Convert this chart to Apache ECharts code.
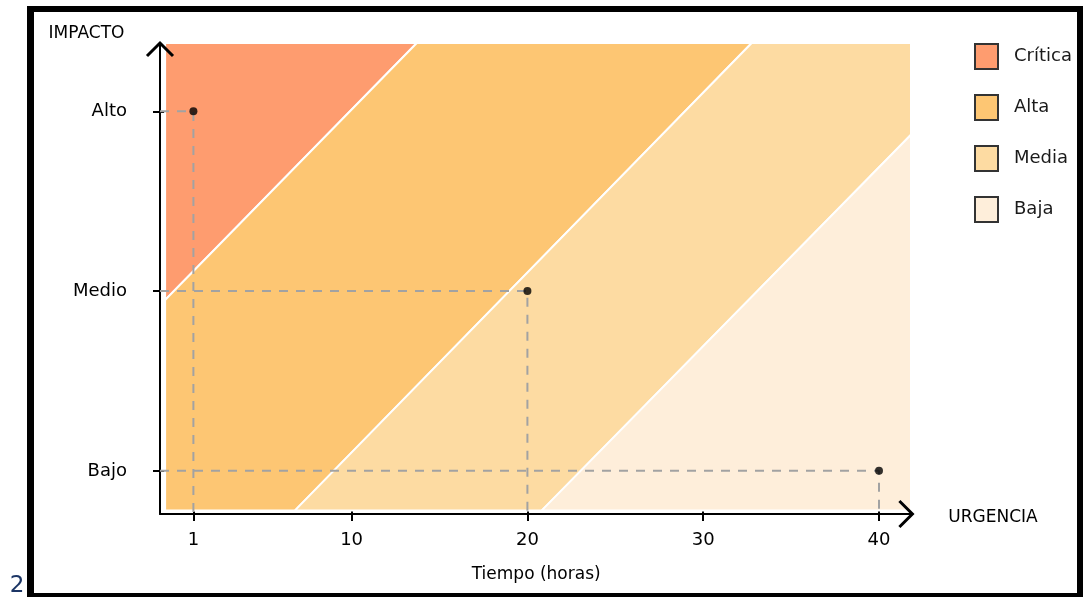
<!DOCTYPE html>
<html><head><meta charset="utf-8">
<script src="https://cdn.jsdelivr.net/npm/echarts@6/dist/echarts.min.js"></script>
<style>html,body{margin:0;padding:0;background:#fff}#c{width:1084px;height:597px}</style>
</head><body><div id="c"></div>
<script>
// ---- data ----
const bandNames  = ['Crítica', 'Alta', 'Media', 'Baja'];
const bandColors = ['#FE9C6F', '#FDC673', '#FDDBA2', '#FEEEDA'];
// polygon vertices of each priority band, [hours, impact]
const criticaPoly = [[-0.61, 3.38], [13.71, 3.38], [-0.61, 1.95]];
const altaPoly    = [[13.71, 3.38], [32.76, 3.38], [6.78, 0.78], [-0.61, 0.78], [-0.61, 1.95]];
const mediaPoly   = [[32.76, 3.38], [41.82, 3.38], [41.82, 2.87], [20.82, 0.78], [6.78, 0.78]];
const bajaPoly    = [[41.82, 2.87], [41.82, 0.78], [20.82, 0.78]];
const bandPolys = [criticaPoly, altaPoly, mediaPoly, bajaPoly];

const hourTicks    = [1, 10, 20, 30, 40];
const impactTicks  = [1, 2, 3];
const impactLabels = ['Bajo', 'Medio', 'Alto'];

const pointHours  = [1, 20, 40];
const pointImpact = [3, 2, 1];

const X_RANGE = [-0.9, 41.9];
const Y_RANGE = [0.76, 3.38];

// ---- chart ----
const FONT = 'DejaVu Sans';

function bandSeries(i) {
  const poly = bandPolys[i];
  return {
    type: 'custom', name: bandNames[i], xAxisIndex: 0, yAxisIndex: 0,
    data: [poly[0]], silent: true, z: 1,
    itemStyle: { color: bandColors[i] },
    renderItem: function (params, api) {
      return {
        type: 'polygon',
        shape: { points: poly.map(p => api.coord(p)) },
        style: { fill: bandColors[i], stroke: '#ffffff', lineWidth: 2 }
      };
    }
  };
}

const series = [0, 1, 2, 3].map(bandSeries);

pointHours.forEach((h, i) => {
  series.push({
    type: 'line', name: 'guide' + i, xAxisIndex: 0, yAxisIndex: 0,
    data: [[X_RANGE[0], pointImpact[i]], [h, pointImpact[i]], [h, Y_RANGE[0]]],
    symbol: 'none', silent: true, z: 2, animation: false,
    lineStyle: { color: '#a2a2a2', width: 2, type: [9, 8] }
  });
});

series.push({
  type: 'scatter', name: 'puntos', xAxisIndex: 0, yAxisIndex: 0,
  data: pointHours.map((h, i) => [h, pointImpact[i]]),
  symbol: 'circle', symbolSize: 8, z: 3,
  itemStyle: { color: '#000' }
});

const axisLineStyle = { color: '#000', width: 2 };
const tickStyle = { color: '#000', width: 2 };

const option = {
  animation: false,
  backgroundColor: '#fff',
  grid: { left: 160, right: 171.6, top: 43, bottom: 83, containLabel: false },
  legend: {
    data: bandNames, orient: 'vertical', left: 974, top: 43, padding: 0,
    itemWidth: 23, itemHeight: 25, itemGap: 24, icon: 'rect',
    itemStyle: { borderColor: '#333', borderWidth: 2 },
    textStyle: { fontFamily: FONT, fontSize: 18, color: '#1a1a1a', padding: [0, 0, 0, 11] },
    selectedMode: false
  },
  xAxis: [
    {
      type: 'value', min: X_RANGE[0], max: X_RANGE[1], position: 'bottom',
      axisLine: { show: true, onZero: false, lineStyle: axisLineStyle },
      axisTick: { show: true, customValues: hourTicks, length: 7, lineStyle: tickStyle },
      axisLabel: { customValues: hourTicks, margin: 17, fontFamily: FONT, fontSize: 18, color: '#000' },
      splitLine: { show: false },
      name: 'Tiempo (horas)', nameLocation: 'middle', nameGap: 52,
      nameTextStyle: { fontFamily: FONT, fontSize: 17, color: '#000' }
    },
    {
      type: 'value', min: X_RANGE[0], max: X_RANGE[1], position: 'bottom',
      axisLine: { show: false, onZero: false },
      axisTick: { show: true, inside: true, customValues: hourTicks, length: 7, lineStyle: tickStyle },
      axisLabel: { show: false }, splitLine: { show: false }
    }
  ],
  yAxis: [
    {
      type: 'value', min: Y_RANGE[0], max: Y_RANGE[1], position: 'left',
      axisLine: { show: true, onZero: false, lineStyle: axisLineStyle },
      axisTick: { show: true, customValues: impactTicks, length: 7, lineStyle: tickStyle },
      axisLabel: { customValues: impactTicks, margin: 33, fontFamily: FONT, fontSize: 18, color: '#000',
        formatter: v => impactLabels[impactTicks.indexOf(v)] },
      splitLine: { show: false },
      name: 'IMPACTO', nameLocation: 'end', nameGap: 1,
      nameTextStyle: { fontFamily: FONT, fontSize: 17, color: '#000', align: 'center',
        verticalAlign: 'bottom', padding: [0, 147, 0, 0] }
    },
    {
      type: 'value', min: Y_RANGE[0], max: Y_RANGE[1], position: 'left',
      axisLine: { show: false, onZero: false },
      axisTick: { show: true, inside: true, customValues: impactTicks, length: 7, lineStyle: tickStyle },
      axisLabel: { show: false }, splitLine: { show: false }
    }
  ],
  series: series,
  graphic: [
    { id: 'fTop', type: 'rect', shape: { x: 27, y: 6, width: 1056, height: 6 }, style: { fill: '#000' }, z: 100 },
    { id: 'fLeft', type: 'rect', shape: { x: 27, y: 6, width: 7, height: 591 }, style: { fill: '#000' }, z: 100 },
    { id: 'fRight', type: 'rect', shape: { x: 1077, y: 6, width: 6, height: 591 }, style: { fill: '#000' }, z: 100 },
    { id: 'fBottom', type: 'rect', shape: { x: 27, y: 593, width: 1056, height: 4 }, style: { fill: '#000' }, z: 100 },
    { id: 'two', type: 'text', x: 17, y: 586, z: 100,
      style: { text: '2', font: '23px "DejaVu Sans"', fill: '#1c3565', align: 'center', verticalAlign: 'middle' } },
    { id: 'urg', type: 'text', x: 993, y: 518, z: 100,
      style: { text: 'URGENCIA', font: '17px "DejaVu Sans"', fill: '#000', align: 'center', verticalAlign: 'middle' } }
  ]
};

const chart = echarts.init(document.getElementById('c'), null, { renderer: 'canvas' });
chart.setOption(option);

// open chevron arrowheads at the ends of both axes
const xEnd = chart.convertToPixel({ xAxisIndex: 0, yAxisIndex: 0 }, [X_RANGE[1], Y_RANGE[0]]);
const yEnd = chart.convertToPixel({ xAxisIndex: 0, yAxisIndex: 0 }, [X_RANGE[0], Y_RANGE[1]]);
chart.setOption({
  graphic: [
    { id: 'arrowX', type: 'polyline', z: 50,
      shape: { points: [[xEnd[0] - 13, xEnd[1] - 13], [xEnd[0], xEnd[1]], [xEnd[0] - 13, xEnd[1] + 13]] },
      style: { stroke: '#000', lineWidth: 3, fill: null } },
    { id: 'arrowY', type: 'polyline', z: 50,
      shape: { points: [[yEnd[0] - 13, yEnd[1] + 13], [yEnd[0], yEnd[1]], [yEnd[0] + 13, yEnd[1] + 13]] },
      style: { stroke: '#000', lineWidth: 3, fill: null } }
  ]
});
</script>
</body></html>
